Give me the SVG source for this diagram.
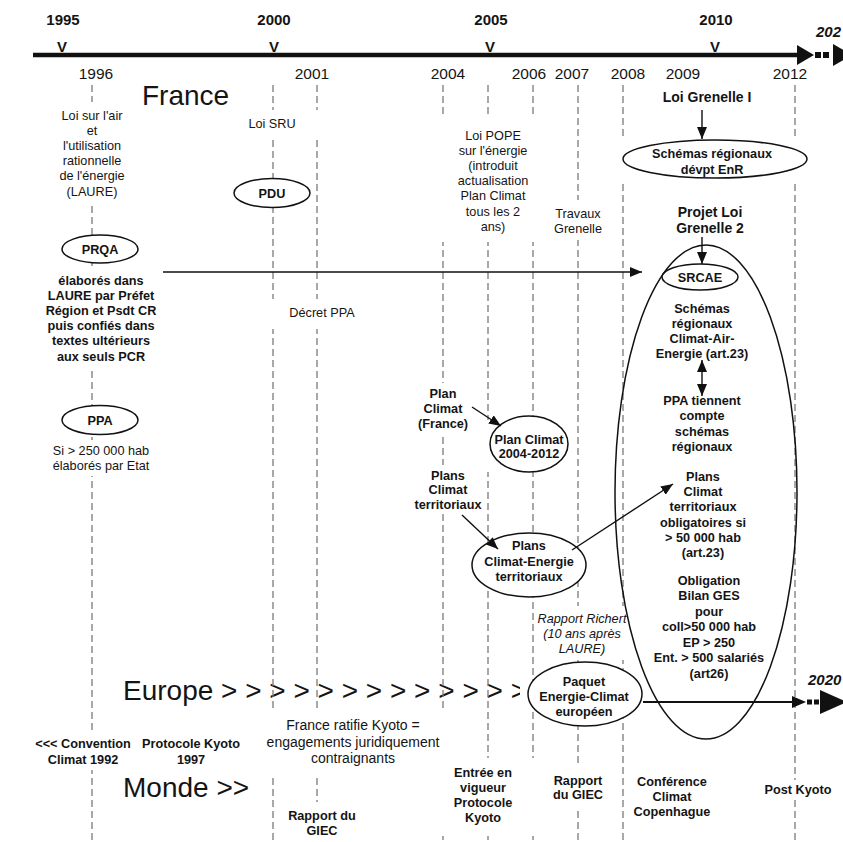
<svg xmlns="http://www.w3.org/2000/svg" width="843" height="842" viewBox="0 0 843 842">
<defs>
<style>
text{font-family:"Liberation Sans",Arial,sans-serif;fill:#141414}
.yr{font-size:15px;font-weight:bold;text-anchor:middle}
.yr2{font-size:15.5px;text-anchor:middle}
.n{font-size:12.7px;text-anchor:middle}
.n14{font-size:14px;text-anchor:middle}
.b{font-size:12.7px;font-weight:bold;text-anchor:middle}
.b14{font-size:14px;font-weight:bold;text-anchor:middle}
.big{font-size:28px}
.it{font-style:italic}
.grid line{stroke:#7a7a7a;stroke-width:1.3;stroke-dasharray:7 4}
.bg{fill:#fff}
.el{fill:#fff;stroke:#111;stroke-width:1.5}
.arr{stroke:#111;stroke-width:1.4;fill:none}
</style>
<marker id="ah" viewBox="0 0 12 10" refX="12" refY="5" markerWidth="12" markerHeight="10" markerUnits="userSpaceOnUse" orient="auto-start-reverse"><path d="M0,0 L12,5 L0,10 z" fill="#111"/></marker>
</defs>
<rect width="843" height="842" fill="#fff"/>

<g id="timeline">
<line x1="33" y1="55" x2="798" y2="55" stroke="#111" stroke-width="4.5"/>
<polygon points="797,45 797,65 814,55" fill="#111"/>
<line x1="815" y1="55" x2="831" y2="55" stroke="#111" stroke-width="6" stroke-dasharray="6 2"/>
<polygon points="833,44 833,66 852,55" fill="#111"/>
<text class="yr" x="63" y="25">1995</text>
<text class="yr" x="274" y="25">2000</text>
<text class="yr" x="491" y="25">2005</text>
<text class="yr" x="716" y="25">2010</text>
<text class="yr it" x="816" y="37" style="text-anchor:start">202</text>
<text class="yr" x="62" y="52">V</text>
<text class="yr" x="274" y="52">V</text>
<text class="yr" x="490" y="52">V</text>
<text class="yr" x="715" y="52">V</text>
<text class="yr2" x="96" y="79">1996</text>
<text class="yr2" x="312" y="79">2001</text>
<text class="yr2" x="448" y="79">2004</text>
<text class="yr2" x="529" y="79">2006</text>
<text class="yr2" x="572" y="79">2007</text>
<text class="yr2" x="628" y="79">2008</text>
<text class="yr2" x="683" y="79">2009</text>
<text class="yr2" x="790" y="79">2012</text>
</g>

<g id="rows">
<text class="big" x="142" y="105">France</text>
<text class="big" x="123" y="700">Europe &gt; &gt; &gt; &gt; &gt; &gt; &gt; &gt; &gt; &gt; &gt; &gt; &gt;</text>
<text class="big" x="123" y="797">Monde &gt;&gt;</text>
</g>

<g class="grid" id="year-lines">
<line x1="92" y1="85" x2="92" y2="842"/>
<line x1="273" y1="85" x2="273" y2="842"/>
<line x1="317" y1="85" x2="317" y2="842"/>
<line x1="443" y1="85" x2="443" y2="842"/>
<line x1="488" y1="85" x2="488" y2="842"/>
<line x1="533" y1="85" x2="533" y2="842"/>
<line x1="578" y1="85" x2="578" y2="842"/>
<line x1="623" y1="85" x2="623" y2="842"/>
<line x1="795" y1="85" x2="795" y2="842"/>
</g>

<g id="laure">
<rect class="bg" x="58" y="102" width="70" height="101"/>
<text class="n" x="92" y="119.5">Loi sur l'air</text>
<text class="n" x="92" y="134.7">et</text>
<text class="n" x="92" y="149.9">l'utilisation</text>
<text class="n" x="92" y="165.1">rationnelle</text>
<text class="n" x="92" y="180.3">de l'énergie</text>
<text class="n" x="92" y="195.5">(LAURE)</text>
</g>

<g id="prqa">
<ellipse class="el" cx="100" cy="249" rx="38" ry="14"/>
<text class="b" x="100" y="253.5">PRQA</text>
</g>

<g id="prqa-note">
<rect class="bg" x="45" y="266" width="112" height="104"/>
<text class="b" x="101" y="284.5">élaborés dans</text>
<text class="b" x="101" y="299.7">LAURE par Préfet</text>
<text class="b" x="101" y="314.9">Région et Psdt CR</text>
<text class="b" x="101" y="330.1">puis confiés dans</text>
<text class="b" x="101" y="345.3">textes ultérieurs</text>
<text class="b" x="101" y="360.5">aux seuls PCR</text>
</g>

<g id="ppa">
<ellipse class="el" cx="100" cy="420" rx="38" ry="14.5"/>
<text class="b" x="100" y="424.5">PPA</text>
</g>

<g id="ppa-note">
<rect class="bg" x="48" y="440" width="106" height="36"/>
<text class="n" x="101" y="454.5">Si &gt; 250 000 hab</text>
<text class="n" x="101" y="469.5">élaborés par Etat</text>
</g>

<g id="loi-sru">
<rect class="bg" x="245" y="110" width="88" height="27"/>
<text class="n" x="272" y="127.5">Loi SRU</text>
</g>

<g id="pdu">
<ellipse class="el" cx="272" cy="193" rx="38" ry="14.5"/>
<text class="b" x="272" y="197.5">PDU</text>
</g>

<g id="decret-ppa">
<rect class="bg" x="265" y="299" width="95" height="30"/>
<text class="n" x="322" y="316.5">Décret PPA</text>
</g>

<g id="loi-pope">
<rect class="bg" x="438" y="118" width="104" height="124"/>
<text class="n" x="493" y="139.5">Loi POPE</text>
<text class="n" x="493" y="154.7">sur l'énergie</text>
<text class="n" x="493" y="169.9">(introduit</text>
<text class="n" x="493" y="185.1">actualisation</text>
<text class="n" x="493" y="200.3">Plan Climat</text>
<text class="n" x="493" y="215.5">tous les 2</text>
<text class="n" x="493" y="230.7">ans)</text>
</g>

<g id="travaux-grenelle">
<rect class="bg" x="552" y="200" width="52" height="40"/>
<text class="n" x="578" y="217.5">Travaux</text>
<text class="n" x="578" y="232.5">Grenelle</text>
</g>

<g id="plan-climat-france">
<rect class="bg" x="414" y="383" width="58" height="52"/>
<text class="b" x="443" y="397.5">Plan</text>
<text class="b" x="443" y="412.7">Climat</text>
<text class="b" x="443" y="427.9">(France)</text>
</g>

<g id="plan-climat-2004">
<rect class="bg" x="485" y="420" width="88" height="52"/>
<ellipse class="el" cx="529" cy="444" rx="39" ry="28"/>
<text class="b" x="529" y="443.5">Plan Climat</text>
<text class="b" x="529" y="458">2004-2012</text>
</g>

<g id="plans-climat-territoriaux">
<rect class="bg" x="412" y="465" width="72" height="48"/>
<text class="b" x="448" y="479.5">Plans</text>
<text class="b" x="448" y="494">Climat</text>
<text class="b" x="448" y="509">territoriaux</text>
</g>

<g id="pcet">
<ellipse class="el" cx="529" cy="565" rx="57" ry="32"/>
<text class="b" x="529" y="549.5">Plans</text>
<text class="b" x="529" y="566">Climat-Energie</text>
<text class="b" x="529" y="581">territoriaux</text>
</g>

<g id="loi-grenelle-1">
<text class="b14" x="707" y="101.5">Loi Grenelle I</text>
</g>

<g id="schemas-enr">
<rect class="bg" x="620" y="138" width="190" height="44"/>
<ellipse class="el" cx="715" cy="159" rx="92" ry="19"/>
<text class="b" x="712" y="157.5">Schémas régionaux</text>
<text class="b" x="712" y="173.5">dévpt EnR</text>
</g>

<g id="projet-loi-grenelle-2">
<text class="b14" x="710" y="217">Projet Loi</text>
<text class="b14" x="710" y="233">Grenelle 2</text>
</g>

<g id="srcae">
<ellipse class="el" cx="700" cy="277" rx="38" ry="13"/>
<text class="b" x="700" y="281.5">SRCAE</text>
</g>

<g id="srcae-def">
<text class="b" x="702" y="312.5">Schémas</text>
<text class="b" x="702" y="327.5">régionaux</text>
<text class="b" x="702" y="342.5">Climat-Air-</text>
<text class="b" x="702" y="358">Energie (art.23)</text>
</g>

<g id="ppa-tiennent">
<text class="b" x="702" y="404.5">PPA tiennent</text>
<text class="b" x="702" y="420">compte</text>
<text class="b" x="702" y="435.5">schémas</text>
<text class="b" x="702" y="451">régionaux</text>
</g>

<g id="pct-obligatoires">
<text class="b" x="703" y="480.5">Plans</text>
<text class="b" x="703" y="496">Climat</text>
<text class="b" x="703" y="511">territoriaux</text>
<text class="b" x="703" y="526.5">obligatoires si</text>
<text class="b" x="703" y="541.5">&gt; 50 000 hab</text>
<text class="b" x="703" y="556.5">(art.23)</text>
</g>

<g id="bilan-ges">
<text class="b" x="709" y="584.5">Obligation</text>
<text class="b" x="709" y="600">Bilan GES</text>
<text class="b" x="709" y="615.5">pour</text>
<text class="b" x="709" y="631">coll&gt;50 000 hab</text>
<text class="b" x="709" y="646.5">EP &gt; 250</text>
<text class="b" x="709" y="662">Ent. &gt; 500 salariés</text>
<text class="b" x="709" y="677.5">(art26)</text>
</g>

<g id="rapport-richert">
<rect class="bg" x="538" y="606" width="86" height="54"/>
<text class="n it" x="582" y="622.5">Rapport Richert</text>
<text class="n it" x="582" y="637.5">(10 ans après</text>
<text class="n it" x="582" y="652.5">LAURE)</text>
</g>

<g id="paquet-energie-climat">
<rect class="bg" x="520" y="676" width="11" height="30"/>
<ellipse class="el" cx="585" cy="694" rx="57" ry="32"/>
<text class="b" x="584" y="685.5">Paquet</text>
<text class="b" x="584" y="701">Energie-Climat</text>
<text class="b" x="584" y="715.5">européen</text>
</g>

<g id="convention-climat">
<rect class="bg" x="35" y="730" width="97" height="40"/>
<text class="b" x="83" y="747.5">&lt;&lt;&lt; Convention</text>
<text class="b" x="83" y="763.5">Climat 1992</text>
</g>

<g id="protocole-kyoto">
<rect class="bg" x="142" y="730" width="100" height="40"/>
<text class="b" x="191" y="747.5">Protocole Kyoto</text>
<text class="b" x="191" y="763.5">1997</text>
</g>

<g id="france-ratifie">
<rect class="bg" x="262" y="708" width="184" height="66"/>
<text class="n14" x="353" y="730">France ratifie Kyoto =</text>
<text class="n14" x="353" y="747">engagements juridiquement</text>
<text class="n14" x="353" y="763">contraignants</text>
</g>

<g id="rapport-giec-2001">
<rect class="bg" x="280" y="802" width="85" height="40"/>
<text class="b" x="322" y="819.5">Rapport du</text>
<text class="b" x="322" y="834.5">GIEC</text>
</g>

<g id="entree-vigueur">
<rect class="bg" x="438" y="758" width="96" height="78"/>
<text class="b" x="483" y="776.5">Entrée en</text>
<text class="b" x="483" y="791.5">vigueur</text>
<text class="b" x="483" y="806.5">Protocole</text>
<text class="b" x="483" y="821.5">Kyoto</text>
</g>

<g id="rapport-giec-2007">
<rect class="bg" x="550" y="765" width="56" height="45"/>
<text class="b" x="578" y="784.5">Rapport</text>
<text class="b" x="578" y="798.5">du GIEC</text>
</g>

<g id="copenhague">
<rect class="bg" x="635" y="770" width="75" height="50"/>
<text class="b" x="672" y="785.5">Conférence</text>
<text class="b" x="672" y="800.5">Climat</text>
<text class="b" x="672" y="816">Copenhague</text>
</g>

<g id="post-kyoto">
<rect class="bg" x="768" y="780" width="62" height="20"/>
<text class="b" x="798" y="793.5">Post Kyoto</text>
</g>

<g id="grenelle2-scope">
<ellipse cx="706" cy="492" rx="91" ry="247" fill="none" stroke="#111" stroke-width="1.5"/>
</g>

<g id="connectors">
<line class="arr" x1="702" y1="110" x2="702" y2="139" marker-end="url(#ah)"/>
<line class="arr" x1="702" y1="237" x2="702" y2="264" marker-end="url(#ah)"/>
<line class="arr" x1="163" y1="272" x2="642" y2="272" marker-end="url(#ah)"/>
<line class="arr" x1="702" y1="360" x2="702" y2="396" marker-start="url(#ah)" marker-end="url(#ah)"/>
<line class="arr" x1="472" y1="407" x2="501" y2="426" marker-end="url(#ah)"/>
<line class="arr" x1="462" y1="515" x2="498" y2="549" marker-end="url(#ah)"/>
<line class="arr" x1="572" y1="550" x2="673" y2="484" marker-end="url(#ah)"/>
<line x1="643" y1="702" x2="795" y2="702" stroke="#111" stroke-width="2"/>
<polygon points="792,696 792,708 806,702" fill="#111"/>
<line x1="807" y1="702" x2="819" y2="702" stroke="#111" stroke-width="5" stroke-dasharray="5 2"/>
<polygon points="820,690 820,714 847,702" fill="#111"/>
<text class="yr it" x="808" y="685" style="text-anchor:start">2020</text>
</g>
</svg>
